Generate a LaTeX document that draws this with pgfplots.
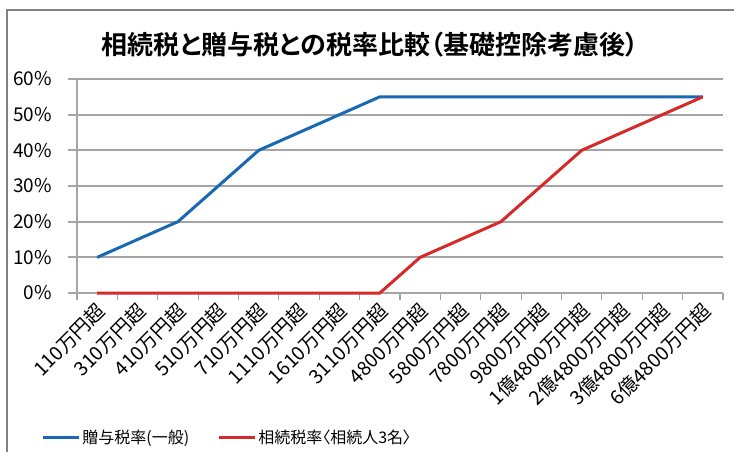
\documentclass[border=0pt]{standalone}
\usepackage{fontspec}
\setmainfont{Noto Sans CJK JP}
\newfontfamily\titlefont[RawFeature=+palt]{Noto Sans CJK JP Bold}
\newfontfamily\propfont[RawFeature=+palt]{Noto Sans CJK JP}
\usepackage{pgfplots}
\pgfplotsset{compat=1.18}

\definecolor{zoyo}{RGB}{24,104,180}
\definecolor{sozoku}{RGB}{214,42,42}
\definecolor{gridgray}{RGB}{165,165,165}
\definecolor{framegray}{RGB}{130,130,130}

\begin{document}
\begin{tikzpicture}
\useasboundingbox (-77pt,-159pt) rectangle (657pt,293pt);
% chart frame (top and left edges only)
\draw[framegray, line width=1.5pt] (-70pt,-170pt) -- (-70pt,283pt) -- (670pt,283pt);

\node[font=\titlefont\fontsize{26}{28}\selectfont] at (293pt,248pt)
  {相続税と贈与税との税率比較（基礎控除考慮後）};

\begin{axis}[
  at={(20.1875pt,0pt)}, anchor=origin,
  scale only axis,
  width=646pt, height=214pt,
  xmin=-0.5, xmax=15.5,
  ymin=0, ymax=60,
  xtick={0,...,15},
  xticklabels={110万円超,310万円超,410万円超,510万円超,710万円超,1110万円超,1610万円超,3110万円超,4800万円超,5800万円超,7800万円超,9800万円超,1億4800万円超,2億4800万円超,3億4800万円超,6億4800万円超},
  major x tick style={draw=none},
  minor xtick={-0.5,0.5,...,15.5},
  minor x tick style={gridgray, line width=1.2pt},
  minor tick length=7pt,
  ytick={0,10,...,60},
  yticklabel={\pgfmathprintnumber{\tick}\%},
  /pgf/number format/assume math mode=true,
  major tick length=9pt,
  tick align=outside,
  tick pos=left,
  ymajorgrids,
  grid style={gridgray, line width=2pt},
  axis lines*=left,
  axis line style={gridgray, line width=1.5pt},
  y tick style={gridgray, line width=2pt},
  x tick label style={rotate=45, anchor=east, font=\fontsize{19.5}{19.5}\selectfont, inner sep=1pt, yshift=-7pt, xshift=0pt},
  y tick label style={font=\fontsize{19}{19}\selectfont, inner sep=2pt, xshift=-14pt},
  clip=false,
  legend columns=2,
  legend style={at={(-0.06,-0.673)}, anchor=west, draw=none, fill=none,
    font=\propfont\fontsize{16}{16}\selectfont,
    /tikz/every even column/.append style={column sep=26pt}},
  legend image code/.code={\draw[#1, line width=3pt] (0pt,0pt) -- (36pt,0pt);},
]
\addplot[zoyo, line width=3pt] coordinates {
  (0,10) (1,15) (2,20) (3,30) (4,40) (5,45) (6,50) (7,55)
  (8,55) (9,55) (10,55) (11,55) (12,55) (13,55) (14,55) (15,55)
};
\addlegendentry{贈与税率(一般)}
\addplot[sozoku, line width=3pt] coordinates {
  (0,0) (1,0) (2,0) (3,0) (4,0) (5,0) (6,0) (7,0)
  (8,10) (9,15) (10,20) (11,30) (12,40) (13,45) (14,50) (15,55)
};
\addlegendentry{相続税率〈相続人3名〉}
\end{axis}
\end{tikzpicture}
\end{document}
